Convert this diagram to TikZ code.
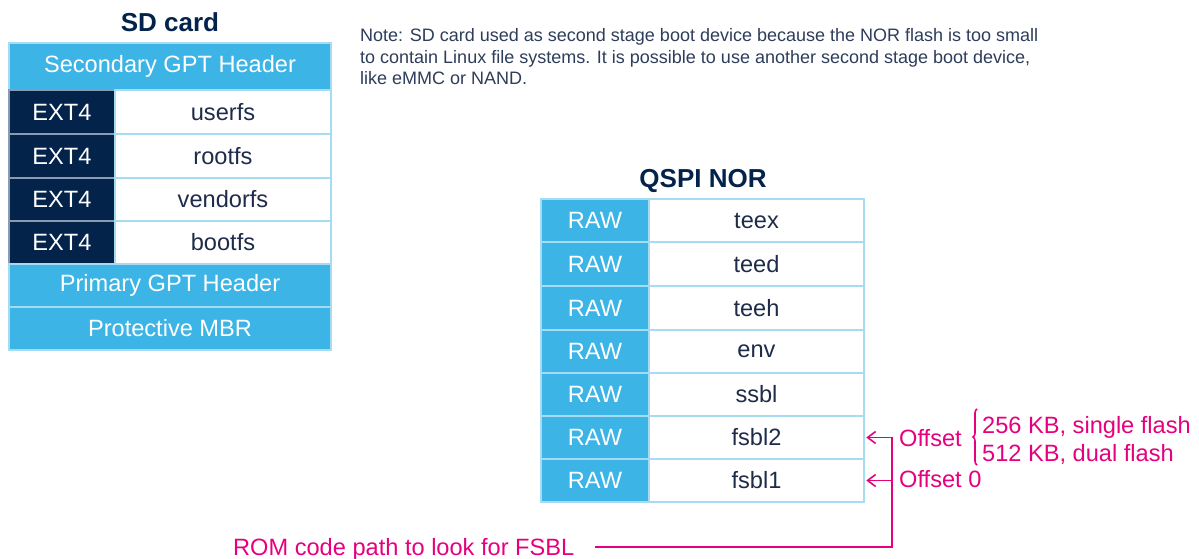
\documentclass[tikz,border=0pt]{standalone}
\usepackage{fontspec}
\setmainfont{Liberation Sans}
\usetikzlibrary{arrows.meta,decorations.pathreplacing}
\definecolor{stlight}{HTML}{3CB4E6}
\definecolor{stdark}{HTML}{03234B}
\definecolor{stedge}{HTML}{A6DBF2}
\definecolor{stdarkedge}{HTML}{8A9AB0}
\definecolor{sttext}{HTML}{1E2C4A}
\definecolor{notecol}{HTML}{2E3D5A}
\definecolor{stpink}{HTML}{E6007E}
\begin{document}
\begin{tikzpicture}[x=1pt,y=-1pt,
 cell/.style={draw=stedge, line width=1.5pt, inner sep=0pt, font=\fontsize{23.6}{27}\selectfont},
 lightcell/.style={cell, fill=stlight, text=white},
 darkcell/.style={cell, fill=stdark, text=white, draw=stdarkedge},
 whitecell/.style={cell, fill=white, text=sttext},
 titletext/.style={font=\fontsize{26}{30}\selectfont\bfseries, text=stdark, inner sep=0pt},
 notetext/.style={font=\fontsize{18}{21.5}\selectfont, text=notecol, inner sep=0pt, anchor=base west},
 pinktext/.style={font=\fontsize{23.6}{27}\selectfont, text=stpink, inner sep=0pt, anchor=base west},
 pinkline/.style={draw=stpink, line width=1.6pt},
 barbtip/.style={-{Straight Barb[length=8pt,width=12pt]}}
]
\useasboundingbox (0,0) rectangle (1199,559);
\fill[white] (0,0) rectangle (1199,559);

% ---------- SD card ----------
\node[titletext] (sdtitle) at (170,22) {SD card};
\node[lightcell, minimum width=322pt, minimum height=47pt] (s0) at (170,66.5) {Secondary GPT Header};
\node[darkcell, minimum width=106pt, minimum height=44pt] (s1a) at (62,112) {EXT4};
\node[whitecell, minimum width=216pt, minimum height=44pt] (s1b) at (223,112) {userfs};
\node[darkcell, minimum width=106pt, minimum height=44pt] (s2a) at (62,156) {EXT4};
\node[whitecell, minimum width=216pt, minimum height=44pt] (s2b) at (223,156) {rootfs};
\node[darkcell, minimum width=106pt, minimum height=43pt] (s3a) at (62,199.5) {EXT4};
\node[whitecell, minimum width=216pt, minimum height=43pt] (s3b) at (223,199.5) {vendorfs};
\node[darkcell, minimum width=106pt, minimum height=43pt] (s4a) at (62,242.5) {EXT4};
\node[whitecell, minimum width=216pt, minimum height=43pt] (s4b) at (223,242.5) {bootfs};
\node[lightcell, minimum width=322pt, minimum height=43pt] (s5) at (170,285.5) {Primary GPT Header};
\node[lightcell, minimum width=322pt, minimum height=43pt] (s6) at (170,328.5) {Protective MBR};

% ---------- Note ----------
\node[notetext] (note1) at (360,42) {Note: SD card used as second stage boot device because the NOR flash is too small};
\node[notetext] (note2) at (360,63.5) {to contain Linux file systems. It is possible to use another second stage boot device,};
\node[notetext] (note3) at (360,85) {like eMMC or NAND.};

% ---------- QSPI NOR ----------
\node[titletext] (qtitle) at (703,181) {QSPI NOR};
\node[lightcell, minimum width=108pt, minimum height=43pt] (q0a) at (595,220.5) {RAW};
\node[whitecell, minimum width=215pt, minimum height=43pt] (q0b) at (756.5,220.5) {teex};
\node[lightcell, minimum width=108pt, minimum height=44pt] (q1a) at (595,264) {RAW};
\node[whitecell, minimum width=215pt, minimum height=44pt] (q1b) at (756.5,264) {teed};
\node[lightcell, minimum width=108pt, minimum height=44pt] (q2a) at (595,308) {RAW};
\node[whitecell, minimum width=215pt, minimum height=44pt] (q2b) at (756.5,308) {teeh};
\node[lightcell, minimum width=108pt, minimum height=43pt] (q3a) at (595,351.5) {RAW};
\node[whitecell, minimum width=215pt, minimum height=43pt] (q3b) at (756.5,351.5) {env};
\node[lightcell, minimum width=108pt, minimum height=43pt] (q4a) at (595,394.5) {RAW};
\node[whitecell, minimum width=215pt, minimum height=43pt] (q4b) at (756.5,394.5) {ssbl};
\node[lightcell, minimum width=108pt, minimum height=43pt] (q5a) at (595,437.5) {RAW};
\node[whitecell, minimum width=215pt, minimum height=43pt] (q5b) at (756.5,437.5) {fsbl2};
\node[lightcell, minimum width=108pt, minimum height=43pt] (q6a) at (595,480.5) {RAW};
\node[whitecell, minimum width=215pt, minimum height=43pt] (q6b) at (756.5,480.5) {fsbl1};

% ---------- annotations ----------
\node[pinktext] (off1) at (899,446) {Offset};
\node[pinktext] (off0) at (899,487) {Offset 0};
\node[pinktext] (sz1) at (982,433) {256 KB, single flash};
\node[pinktext] (sz2) at (982,461.5) {512 KB, dual flash};
\draw[pinkline, decorate, decoration={brace, amplitude=4pt, aspect=0.5}] (977,465) -- (977,409);
\node[pinktext] (rom) at (233,555) {ROM code path to look for FSBL};

\coordinate (romstart) at (595,547);
\coordinate (turn) at (892,547);
\draw[pinkline, barbtip, shorten >=1.5pt] (romstart) -- (turn) |- (q5b.east);
\draw[pinkline, barbtip, shorten >=1.5pt] (q6b.east -| turn) -- (q6b.east);
\end{tikzpicture}
\end{document}
